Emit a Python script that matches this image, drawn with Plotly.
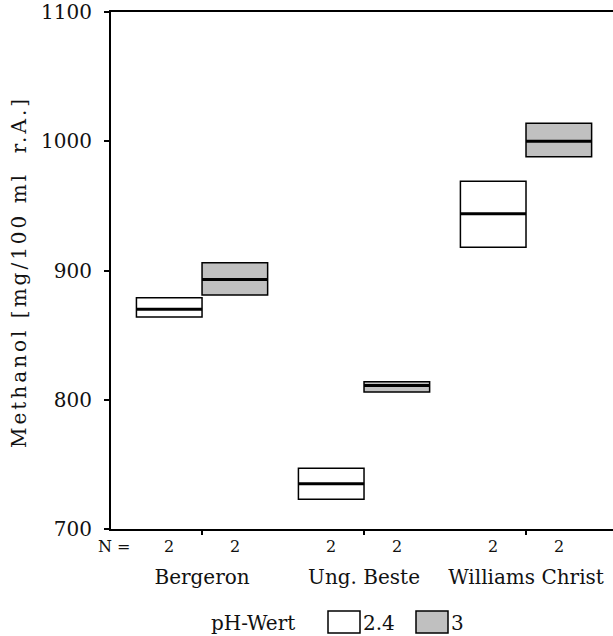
import plotly.graph_objects as go

groups = ["Bergeron", "Ung. Beste", "Williams Christ"]
n_counts_24 = [2, 2, 2]
n_counts_3 = [2, 2, 2]

# pH 2.4
q1_24 = [864, 723, 918]
med_24 = [870, 735, 944]
q3_24 = [879, 747, 969]
# pH 3
q1_3 = [881, 806, 988]
med_3 = [893, 811, 1000]
q3_3 = [906, 814, 1014]

y_ticks = [700, 800, 900, 1000, 1100]
series_names = ["2.4", "3"]
series_fill = ["#ffffff", "#c0c0c0"]

BOXW = 0.405
FONT = "DejaVu Serif"

W, H = 613, 636
ML, MR, MT, MB = 111, 0, 12, 107
PW, PH = W - ML - MR, H - MT - MB


def px_x(px):
    return (px - ML) / PW


def px_y(py):
    return (H - MB - py) / PH


fig = go.Figure()

series = [
    (q1_24, med_24, q3_24, -BOXW / 2, series_fill[0], n_counts_24),
    (q1_3, med_3, q3_3, BOXW / 2, series_fill[1], n_counts_3),
]

for i, (q1, med, q3, off, fill, ns) in enumerate(series):
    xs = [g + off for g in range(len(groups))]
    fig.add_trace(go.Box(
        x=xs, q1=q1, median=med, q3=q3, lowerfence=q1, upperfence=q3,
        width=BOXW, fillcolor=fill, line=dict(color="black", width=1.5),
        whiskerwidth=0, boxpoints=False, name=series_names[i], showlegend=False,
        hoverinfo="skip",
    ))
    # thick median lines
    mx, my = [], []
    for x, m in zip(xs, med):
        mx += [x - BOXW / 2, x + BOXW / 2, None]
        my += [m, m, None]
    fig.add_trace(go.Scatter(x=mx, y=my, mode="lines",
                             line=dict(color="black", width=3),
                             showlegend=False, hoverinfo="skip"))
    # N counts
    for x, n in zip(xs, ns):
        fig.add_annotation(x=x, xref="x", y=px_y(546), yref="paper",
                           text=str(n), showarrow=False, yanchor="middle",
                           font=dict(family=FONT, size=16, color="#111"))

fig.add_annotation(x=px_x(114), xref="paper", y=px_y(546), yref="paper",
                   text="N =", showarrow=False, xanchor="center", yanchor="middle",
                   font=dict(family=FONT, size=16, color="#111"))

# y-axis title as rotated annotation
fig.add_annotation(x=px_x(19), xref="paper", y=px_y(272), yref="paper",
                   text=('<span style="letter-spacing:3px">'
                         'Methanol [mg/100 ml&nbsp; r.A.]</span>'),
                   textangle=-90, showarrow=False, xanchor="center", yanchor="middle",
                   font=dict(family=FONT, size=20, color="#111"))

# manual legend
fig.add_annotation(x=px_x(297), xref="paper", y=px_y(623), yref="paper",
                   text="pH-Wert", showarrow=False, xanchor="right", yanchor="middle",
                   font=dict(family=FONT, size=20, color="#111"))
leg = [(328, 360, 361), (416, 448, 449)]
for (x0, x1, tx), name, fill in zip(leg, series_names, series_fill):
    fig.add_shape(type="rect", xref="paper", yref="paper",
                  x0=px_x(x0), x1=px_x(x1), y0=px_y(633), y1=px_y(611),
                  fillcolor=fill, line=dict(color="black", width=1.5))
    fig.add_annotation(x=px_x(tx), xref="paper", y=px_y(623), yref="paper",
                       text=name, showarrow=False, xanchor="left", yanchor="middle",
                       font=dict(family=FONT, size=20, color="#111"))

fig.update_layout(
    width=W, height=H,
    margin=dict(l=ML, r=MR, t=MT, b=MB, pad=0),
    paper_bgcolor="white", plot_bgcolor="white",
    font=dict(family=FONT, color="#111"),
    boxmode="overlay",
    showlegend=False,
)
fig.update_xaxes(
    range=[-0.562, 2.537], tickvals=list(range(len(groups))), ticktext=groups,
    showline=True, linecolor="black", linewidth=2, mirror=True,
    ticks="outside", ticklen=4, tickwidth=2, tickcolor="black",
    showgrid=False, zeroline=False,
    tickfont=dict(family=FONT, size=20, color="#111"),
    ticklabelstandoff=25,
)
fig.update_yaxes(
    range=[700, 1100], tickvals=y_ticks,
    showline=True, linecolor="black", linewidth=2, mirror=False,
    ticks="outside", ticklen=5, tickwidth=2, tickcolor="black",
    showgrid=False, zeroline=False,
    tickfont=dict(family=FONT, size=20, color="#111"),
    ticklabelstandoff=8,
)

fig.write_html("out.html")
